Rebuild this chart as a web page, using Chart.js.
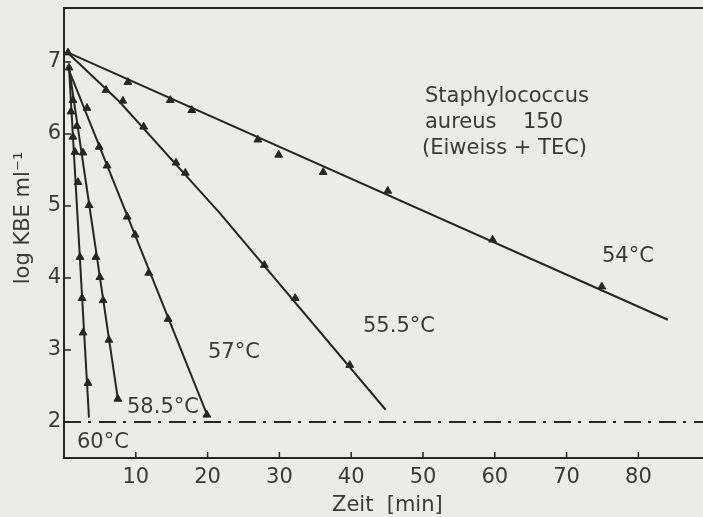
<!DOCTYPE html>
<html>
<head>
<meta charset="utf-8">
<script src="https://cdn.jsdelivr.net/npm/chart.js@4.4.0/dist/chart.umd.min.js"></script>
<style>
  html, body { margin: 0; padding: 0; background: #ebebe9; }
  canvas { display: block; }
</style>
</head>
<body>
<canvas id="kbeChart" width="703" height="517"></canvas>
<script>
// --- values: time [min] and log KBE/ml ---
const xTicks = [10, 20, 30, 40, 50, 60, 70, 80];
const yTicks = [2, 3, 4, 5, 6, 7];
const tempLabels = ["54°C", "55.5°C", "57°C", "58.5°C", "60°C"];

// measured points (triangles)
const t54 = [0.56, 8.9, 14.8, 17.8, 27.0, 29.9, 36.1, 45.1, 59.7, 74.9];
const v54 = [7.13, 6.72, 6.47, 6.33, 5.92, 5.71, 5.47, 5.21, 4.53, 3.88];
const t555 = [5.85, 8.2, 11.1, 15.6, 16.9, 27.9, 32.2, 39.8];
const v555 = [6.61, 6.46, 6.10, 5.60, 5.46, 4.18, 3.72, 2.79];
const t57 = [0.7, 3.2, 4.9, 6.0, 8.8, 9.9, 11.8, 14.5, 19.9];
const v57 = [6.92, 6.36, 5.82, 5.56, 4.85, 4.60, 4.07, 3.43, 2.10];
const t585 = [1.25, 1.8, 2.65, 3.5, 4.45, 5.0, 5.45, 6.25, 7.5];
const v585 = [6.47, 6.11, 5.74, 5.01, 4.29, 4.01, 3.69, 3.14, 2.32];
const t60 = [0.97, 1.25, 1.53, 1.95, 2.23, 2.51, 2.65, 3.34];
const v60 = [6.31, 5.96, 5.75, 5.33, 4.29, 3.72, 3.24, 2.54];

// drawn (fitted) lines
const l54T = [0.56, 84.1],  l54V = [7.13, 3.42];
const l555T = [0.7, 7.8, 21.7, 44.8], l555V = [7.11, 6.44, 4.90, 2.17];
const l57T = [0.56, 20.05], l57V = [6.92, 2.07];
const l585T = [0.7, 7.5],   l585V = [6.92, 2.32];
const l60T = [0.7, 3.48],   l60V = [6.92, 2.06];

// detection limit
const limitT = [0, 89], limitV = [2, 2];

const ink = "#262626";
const FONT = '"DejaVu Sans", sans-serif';

const pts = (ts, vs) => ts.map((t, i) => ({ x: t, y: vs[i] }));

function lineSet(ts, vs, dash) {
  return {
    data: pts(ts, vs), showLine: true, borderColor: ink, borderWidth: 2,
    pointRadius: 0, borderDash: dash || [], tension: 0
  };
}
function markSet(ts, vs) {
  return {
    data: pts(ts, vs), showLine: false, pointStyle: "triangle",
    pointRadius: 4.5, backgroundColor: ink, borderColor: ink, borderWidth: 1
  };
}

// --- frame, inward ticks and the lettering ---
const paperPlugin = {
  id: "paper",
  beforeDraw(chart) {
    const ctx = chart.ctx;
    ctx.save();
    ctx.fillStyle = "#ebebe9";
    ctx.fillRect(0, 0, chart.width, chart.height);
    ctx.restore();
  },
  afterDraw(chart) {
    const ctx = chart.ctx;
    const a = chart.chartArea;
    const xs = chart.scales.x, ys = chart.scales.y;
    ctx.save();
    ctx.strokeStyle = ink;
    ctx.lineWidth = 2;
    ctx.beginPath();
    ctx.moveTo(chart.width, a.top);
    ctx.lineTo(a.left, a.top);
    ctx.lineTo(a.left, a.bottom);
    ctx.lineTo(chart.width, a.bottom);
    ctx.stroke();

    ctx.lineWidth = 1.5;
    ctx.beginPath();
    xTicks.forEach(v => {
      const px = xs.getPixelForValue(v);
      ctx.moveTo(px, a.bottom);
      ctx.lineTo(px, a.bottom - 6);
    });
    yTicks.forEach(v => {
      const py = ys.getPixelForValue(v);
      ctx.moveTo(a.left, py);
      ctx.lineTo(a.left + 7, py);
    });
    ctx.stroke();

    ctx.fillStyle = "#3a3a3a";
    ctx.font = "21px " + FONT;
    ctx.textBaseline = "alphabetic";
    ctx.textAlign = "left";
    ctx.fillText("Staphylococcus", 425, 102);
    ctx.fillText("aureus", 425, 128);
    ctx.fillText("150", 523, 128);
    ctx.fillText("(Eiweiss + TEC)", 422, 154);

    ctx.fillText(tempLabels[0], 602, 262);
    ctx.fillText(tempLabels[1], 363, 332);
    ctx.fillText(tempLabels[2], 208, 358);
    ctx.fillText(tempLabels[3], 127, 413);
    ctx.fillText(tempLabels[4], 77, 448);

    ctx.fillText("Zeit  [min]", 332, 511);

    ctx.translate(29, 218);
    ctx.rotate(-Math.PI / 2);
    ctx.textAlign = "center";
    ctx.fillText("log KBE ml\u207B\u00B9", 0, 0);
    ctx.restore();
  }
};

const chart = new Chart(document.getElementById("kbeChart").getContext("2d"), {
  type: "scatter",
  data: {
    datasets: [
      lineSet(limitT, limitV, [17, 7, 3, 8]),
      lineSet(l54T, l54V), markSet(t54, v54),
      lineSet(l555T, l555V), markSet(t555, v555),
      lineSet(l57T, l57V), markSet(t57, v57),
      lineSet(l585T, l585V), markSet(t585, v585),
      lineSet(l60T, l60V), markSet(t60, v60)
    ]
  },
  options: {
    responsive: false,
    animation: false,
    devicePixelRatio: 1,
    layout: { autoPadding: false, padding: { top: 8, right: 0, left: 0, bottom: 0 } },
    plugins: { legend: { display: false }, tooltip: { enabled: false } },
    scales: {
      x: {
        type: "linear", min: 0, max: 89,
        afterBuildTicks: s => { s.ticks = xTicks.map(v => ({ value: v })); },
        afterFit: s => { s.height = 59; s.paddingLeft = 0; s.paddingRight = 0; },
        grid: { display: false, drawTicks: false },
        border: { display: false },
        ticks: { color: "#3a3a3a", font: { family: FONT, size: 21 }, padding: 7, maxRotation: 0 }
      },
      y: {
        type: "linear", min: 1.5, max: 7.75,
        afterBuildTicks: s => { s.ticks = yTicks.map(v => ({ value: v })); },
        afterFit: s => { s.width = 64; s.paddingTop = 0; s.paddingBottom = 0; },
        grid: { display: false, drawTicks: false },
        border: { display: false },
        ticks: { color: "#3a3a3a", font: { family: FONT, size: 21 }, padding: 3 }
      }
    }
  },
  plugins: [paperPlugin]
});
</script>
</body>
</html>
